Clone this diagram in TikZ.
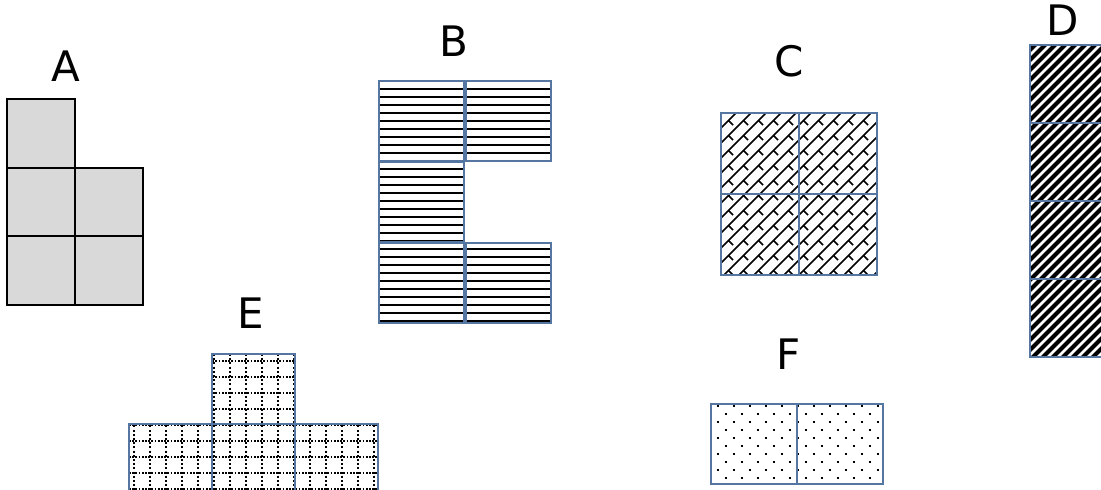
\documentclass[tikz,border=0pt]{standalone}
\usepackage{fontspec}
\setmainfont{DejaVu Sans}

\definecolor{greyfill}{RGB}{217,217,217}
\definecolor{cellblue}{RGB}{84,118,160}

\begin{document}
\begin{tikzpicture}[
		x=1pt, y=-1pt,
		letter/.style={anchor=base,font=\fontsize{42}{50}\selectfont},
		greycell/.style={draw=black,line width=2pt,fill=greyfill},
		cellborder/.style={draw=cellblue,line width=1.1pt},
		hstripe/.style={line width=2.3pt},
		widestripe/.style={line width=4.2pt},
		brickline/.style={line width=1.7pt},
		hdots/.style={line width=1.7pt,dash pattern=on 1.7pt off 1.5pt},
		vdots/.style={line width=1.7pt,dash pattern=on 2pt off 2.2pt}
	]
	\useasboundingbox (0,0) rectangle (1101,490);

	% A
	\foreach \x/\y in {7/99,7/167.5,75/167.5,7/236,75/236}
		\draw[greycell] (\x,\y) rectangle ++(68,68.5);
	\node[letter] (labA) at (66,81) {A};

	% B
	\def\cellsB{379/81,466/81,379/162,379/243,466/243}
	\begin{scope}
		\clip \foreach \x/\y in \cellsB {(\x,\y) rectangle ++(85,80)};
		\foreach \k in {0,...,31}
			\draw[hstripe] (379,81+8*\k) -- ++(172,0);
	\end{scope}
	\foreach \x/\y in \cellsB
		\draw[cellborder] (\x,\y) rectangle ++(85,80);
	\node[letter] (labB) at (454,56) {B};

	% C
	\begin{scope}
		\clip (721,113) rectangle (877,275);
		\foreach \k in {0,...,24}
			\draw[brickline] (541+15*\k,293) -- ++(200,-200);
		\foreach \i in {-1,...,11}
			\foreach \j in {-1,...,11}
				\draw[brickline] (728.5+15*\i,120.5+15*\j) -- ++(4.5,4.5);
	\end{scope}
	\foreach \x in {721,799}
		\foreach \y in {113,194}
			\draw[cellborder] (\x,\y) rectangle ++(78,81);
	\node[letter] (labC) at (789,76) {C};

	% D
	\begin{scope}
		\clip (1030,45) rectangle (1108,357);
		\foreach \k in {0,...,40}
			\draw[widestripe] (718+10*\k,362) -- ++(322,-322);
	\end{scope}
	\foreach \y in {45,123,201,279}
		\draw[cellborder] (1030,\y) rectangle ++(78,78);
	\node[letter] (labD) at (1063,35) {D};

	% E
	\def\cellsE{212/354,129/424,212/424,295/424}
	\begin{scope}
		\clip \foreach \x/\y in \cellsE {(\x,\y) rectangle ++(83,70)};
		\foreach \k in {0,...,8}
			\draw[hdots] (129,361+16*\k) -- ++(250,0);
		\foreach \k in {0,...,15}
			\draw[vdots] (134+16*\k,354) -- ++(0,140);
	\end{scope}
	\foreach \x/\y in \cellsE
		\draw[cellborder] (\x,\y) rectangle ++(83,70);
	\node[letter] (labE) at (251,328) {E};

	% F
	\begin{scope}
		\clip (711,404) rectangle (883,484);
		\foreach \r in {0,...,9}
			\foreach \c in {0,...,11}
				\fill ({716.8+16*\c+8*mod(\r,2)},{404.8+8*\r}) rectangle ++(2.4,2.4);
	\end{scope}
	\foreach \x in {711,797}
		\draw[cellborder] (\x,404) rectangle ++(86,80);
	\node[letter] (labF) at (789,369) {F};
\end{tikzpicture}
\end{document}
